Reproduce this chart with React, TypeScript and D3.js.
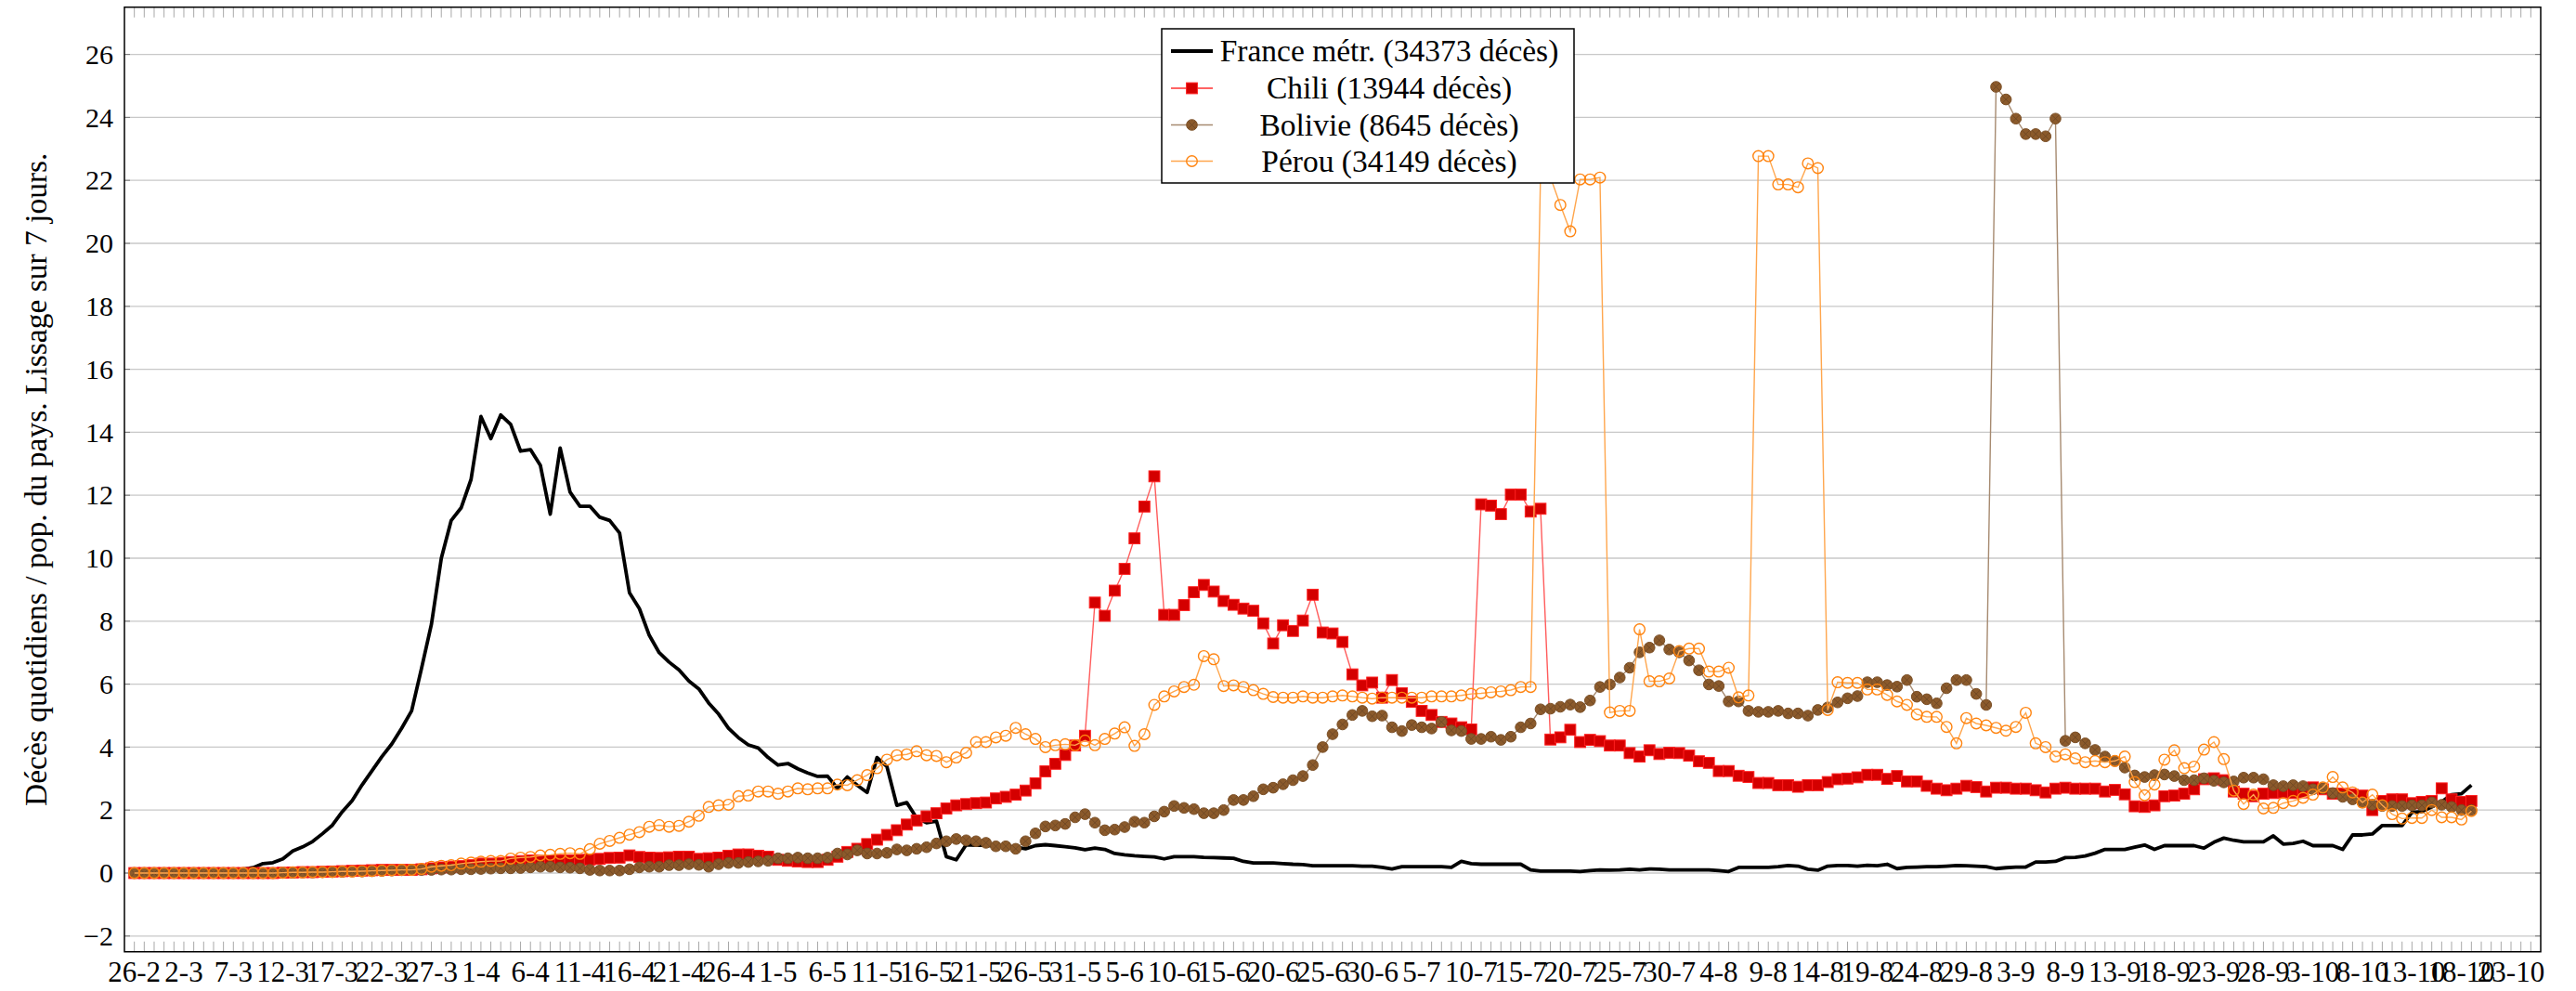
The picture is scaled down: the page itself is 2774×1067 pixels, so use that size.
import React, { useEffect, useRef } from "react";
import * as d3 from "d3";

// x tick labels, one every 5 days starting 26-2 (2020)
const tickLabels = [
  "26-2", "2-3", "7-3", "12-3", "17-3", "22-3", "27-3", "1-4", "6-4", "11-4",
  "16-4", "21-4", "26-4", "1-5", "6-5", "11-5", "16-5", "21-5", "26-5", "31-5",
  "5-6", "10-6", "15-6", "20-6", "25-6", "30-6", "5-7", "10-7", "15-7", "20-7",
  "25-7", "30-7", "4-8", "9-8", "14-8", "19-8", "24-8", "29-8", "3-9", "8-9",
  "13-9", "18-9", "23-9", "28-9", "3-10", "8-10", "13-10", "18-10", "23-10",
];

const yTicks = [-2, 0, 2, 4, 6, 8, 10, 12, 14, 16, 18, 20, 22, 24, 26];

// daily values, day 0 = 26-2
const france = [
  0, 0, 0, 0, 0, 0, 0, 0, 0, 0.05,
  0.1, 0.12, 0.17, 0.3, 0.33, 0.45, 0.7, 0.83, 1.0, 1.25,
  1.52, 1.95, 2.3, 2.8, 3.25, 3.7, 4.1, 4.6, 5.15, 6.5,
  7.9, 10.0, 11.2, 11.6, 12.5, 14.5, 13.8, 14.55, 14.25, 13.4,
  13.45, 12.95, 11.4, 13.5, 12.1, 11.65, 11.65, 11.3, 11.2, 10.8,
  8.9, 8.4, 7.55, 7.0, 6.7, 6.45, 6.1, 5.85, 5.4, 5.05,
  4.6, 4.3, 4.07, 3.97, 3.67, 3.43, 3.48, 3.31, 3.18, 3.07,
  3.08, 2.69, 3.05, 2.79, 2.56, 3.67, 3.38, 2.15, 2.24, 1.75,
  1.6, 1.65, 0.52, 0.42, 0.9, 0.88, 0.88, 0.85, 0.85, 0.82,
  0.77, 0.87, 0.9, 0.87, 0.84, 0.8, 0.74, 0.79, 0.75, 0.62,
  0.58, 0.55, 0.53, 0.51, 0.45, 0.52, 0.52, 0.52, 0.5, 0.49,
  0.48, 0.47, 0.37, 0.32, 0.32, 0.32, 0.3, 0.28, 0.27, 0.23,
  0.23, 0.23, 0.23, 0.23, 0.22, 0.22, 0.18, 0.13, 0.2, 0.2,
  0.2, 0.2, 0.2, 0.18, 0.37, 0.3, 0.28, 0.28, 0.28, 0.28,
  0.28, 0.1, 0.06, 0.06, 0.06, 0.06, 0.05, 0.08, 0.1, 0.09,
  0.1, 0.12, 0.1, 0.13, 0.12, 0.1, 0.1, 0.1, 0.1, 0.1,
  0.08, 0.05, 0.18, 0.18, 0.18, 0.18, 0.2, 0.24, 0.22, 0.12,
  0.09, 0.22, 0.24, 0.24, 0.22, 0.25, 0.23, 0.28, 0.14, 0.18,
  0.19, 0.2, 0.2, 0.22, 0.24, 0.23, 0.22, 0.2, 0.14, 0.17,
  0.19, 0.19, 0.35, 0.35, 0.37, 0.49, 0.5, 0.54, 0.63, 0.75,
  0.75, 0.75, 0.82, 0.89, 0.75, 0.87, 0.87, 0.87, 0.87, 0.79,
  0.98, 1.11, 1.04, 0.99, 0.99, 0.99, 1.18, 0.92, 0.94, 1.01,
  0.87, 0.87, 0.87, 0.75, 1.21, 1.21, 1.24, 1.51, 1.51, 1.51,
  1.93, 1.95, 2.1, 2.26, 2.49, 2.52, 2.79,
];

const chili = [
  0, 0, 0, 0, 0, 0, 0, 0, 0, 0,
  0, 0, 0, 0, 0, 0.01, 0.02, 0.03, 0.03, 0.04,
  0.05, 0.06, 0.07, 0.08, 0.09, 0.1, 0.1, 0.1, 0.1, 0.12,
  0.15, 0.18, 0.2, 0.22, 0.25, 0.3, 0.3, 0.32, 0.35, 0.38,
  0.4, 0.4, 0.4, 0.4, 0.4, 0.42, 0.43, 0.45, 0.48, 0.49,
  0.56, 0.51, 0.49, 0.48, 0.5, 0.52, 0.52, 0.45, 0.47, 0.49,
  0.55, 0.59, 0.59, 0.55, 0.52, 0.42, 0.39, 0.37, 0.35, 0.35,
  0.42, 0.52, 0.67, 0.77, 0.92, 1.06, 1.21, 1.36, 1.54, 1.67,
  1.8, 1.9, 2.05, 2.15, 2.19, 2.22, 2.24, 2.37, 2.42, 2.49,
  2.62, 2.85, 3.23, 3.47, 3.75, 4.05, 4.36, 8.59, 8.17, 8.97,
  9.66, 10.63, 11.64, 12.6, 8.2, 8.2, 8.51, 8.92, 9.15, 8.94,
  8.64, 8.52, 8.4, 8.33, 7.93, 7.29, 7.87, 7.69, 8.02, 8.84,
  7.64, 7.61, 7.34, 6.31, 5.96, 6.05, 5.57, 6.13, 5.71, 5.44,
  5.15, 5.02, 4.8, 4.75, 4.63, 4.56, 11.71, 11.67, 11.4, 12.02,
  12.02, 11.48, 11.57, 4.24, 4.31, 4.55, 4.16, 4.23, 4.19, 4.05,
  4.05, 3.81, 3.7, 3.9, 3.78, 3.82, 3.81, 3.73, 3.55, 3.5,
  3.24, 3.24, 3.09, 3.05, 2.86, 2.86, 2.79, 2.79, 2.74, 2.79,
  2.79, 2.89, 2.98, 3.0, 3.04, 3.12, 3.12, 2.99, 3.08, 2.91,
  2.91, 2.77, 2.68, 2.63, 2.68, 2.77, 2.73, 2.59, 2.71, 2.71,
  2.68, 2.68, 2.63, 2.56, 2.68, 2.71, 2.68, 2.68, 2.68, 2.59,
  2.64, 2.5, 2.12, 2.1, 2.15, 2.44, 2.46, 2.52, 2.66, 2.98,
  3.01, 2.95, 2.59, 2.52, 2.44, 2.52, 2.54, 2.56, 2.54, 2.56,
  2.72, 2.66, 2.52, 2.52, 2.49, 2.46, 2.0, 2.29, 2.34, 2.34,
  2.22, 2.26, 2.29, 2.69, 2.34, 2.26, 2.29,
];

const bolivie = [
  0, 0, 0, 0, 0, 0, 0, 0, 0, 0,
  0, 0, 0, 0, 0, 0.01, 0.01, 0.02, 0.02, 0.03,
  0.03, 0.04, 0.05, 0.05, 0.06, 0.07, 0.08, 0.09, 0.1, 0.1,
  0.1, 0.11, 0.11, 0.12, 0.12, 0.13, 0.14, 0.15, 0.15, 0.16,
  0.18, 0.2, 0.2, 0.18, 0.17, 0.15, 0.1, 0.08, 0.08, 0.08,
  0.12, 0.18, 0.2, 0.2, 0.25, 0.25, 0.28, 0.26, 0.2, 0.28,
  0.32, 0.32, 0.35, 0.37, 0.39, 0.47, 0.47, 0.49, 0.47, 0.47,
  0.49, 0.62, 0.59, 0.72, 0.62, 0.62, 0.64, 0.75, 0.72, 0.77,
  0.82, 0.94, 1.01, 1.08, 1.04, 1.01, 0.96, 0.85, 0.85, 0.77,
  1.01, 1.26, 1.48, 1.51, 1.56, 1.77, 1.87, 1.6, 1.36, 1.38,
  1.46, 1.63, 1.6, 1.8, 1.95, 2.13, 2.07, 2.03, 1.9, 1.9,
  2.0, 2.32, 2.32, 2.44, 2.66, 2.71, 2.82, 2.95, 3.08, 3.43,
  4.0, 4.41, 4.72, 5.02, 5.15, 4.98, 5.0, 4.63, 4.51, 4.7,
  4.63, 4.59, 4.8, 4.53, 4.51, 4.26, 4.26, 4.33, 4.23, 4.33,
  4.63, 4.75, 5.2, 5.22, 5.28, 5.35, 5.27, 5.48, 5.91, 5.99,
  6.21, 6.52, 7.01, 7.16, 7.39, 7.1, 7.01, 6.75, 6.44, 5.99,
  5.94, 5.45, 5.45, 5.15, 5.12, 5.12, 5.15, 5.07, 5.07, 5.0,
  5.18, 5.26, 5.42, 5.55, 5.62, 6.06, 6.06, 5.97, 5.92, 6.13,
  5.6, 5.52, 5.39, 5.87, 6.13, 6.13, 5.69, 5.34, 24.97, 24.57,
  23.96, 23.47, 23.47, 23.4, 23.96, 4.2, 4.31, 4.12, 3.91, 3.7,
  3.56, 3.35, 3.1, 3.05, 3.11, 3.13, 3.08, 2.95, 2.95, 3.01,
  2.93, 2.88, 2.91, 3.03, 3.03, 2.98, 2.79, 2.76, 2.79, 2.76,
  2.66, 2.69, 2.54, 2.42, 2.34, 2.24, 2.17, 2.13, 2.13, 2.13,
  2.15, 2.15, 2.24, 2.17, 2.1, 2.0, 2.0,
];

const perou = [
  0, 0, 0, 0, 0, 0, 0, 0, 0, 0,
  0, 0, 0, 0, 0, 0.01, 0.02, 0.02, 0.03, 0.03,
  0.04, 0.05, 0.05, 0.06, 0.07, 0.08, 0.09, 0.1, 0.1, 0.13,
  0.2, 0.23, 0.25, 0.3, 0.33, 0.36, 0.38, 0.38, 0.46, 0.49,
  0.51, 0.56, 0.58, 0.61, 0.63, 0.61, 0.76, 0.93, 1.02, 1.12,
  1.22, 1.3, 1.47, 1.52, 1.47, 1.5, 1.63, 1.82, 2.1, 2.15,
  2.17, 2.44, 2.46, 2.59, 2.59, 2.52, 2.59, 2.69, 2.66, 2.69,
  2.69, 2.81, 2.79, 2.95, 3.11, 3.33, 3.6, 3.74, 3.77, 3.87,
  3.74, 3.72, 3.52, 3.67, 3.82, 4.16, 4.16, 4.31, 4.36, 4.61,
  4.41, 4.26, 4.0, 4.06, 4.09, 4.06, 4.21, 4.06, 4.26, 4.43,
  4.63, 4.04, 4.41, 5.34, 5.61, 5.77, 5.91, 5.98, 6.89, 6.79,
  5.94, 5.96, 5.91, 5.81, 5.69, 5.59, 5.57, 5.57, 5.61, 5.57,
  5.57, 5.61, 5.64, 5.61, 5.57, 5.54, 5.57, 5.57, 5.57, 5.57,
  5.57, 5.61, 5.61, 5.61, 5.64, 5.69, 5.71, 5.74, 5.77, 5.81,
  5.91, 5.91, 22.2, 22.1, 21.22, 20.38, 22.03, 22.03, 22.09, 5.1,
  5.15, 5.15, 7.74, 6.09, 6.09, 6.18, 7.05, 7.13, 7.13, 6.4,
  6.4, 6.52, 5.58, 5.64, 22.77, 22.77, 21.87, 21.87, 21.78, 22.54,
  22.39, 5.18, 6.06, 6.04, 6.04, 5.83, 5.83, 5.66, 5.45, 5.34,
  5.04, 4.96, 4.96, 4.64, 4.12, 4.92, 4.75, 4.69, 4.61, 4.52,
  4.64, 5.09, 4.12, 4.0, 3.7, 3.77, 3.64, 3.52, 3.56, 3.52,
  3.56, 3.7, 2.89, 2.47, 2.81, 3.6, 3.9, 3.33, 3.38, 3.92,
  4.16, 3.62, 2.62, 2.19, 2.49, 2.05, 2.07, 2.22, 2.29, 2.39,
  2.49, 2.72, 3.05, 2.72, 2.56, 2.24, 2.49, 2.15, 1.87, 1.73,
  1.75, 1.75, 2.0, 1.77, 1.77, 1.7, 1.97,
];

const legendLabels = [
  "France métr. (34373 décès)",
  "Chili (13944 décès)",
  "Bolivie (8645 décès)",
  "Pérou (34149 décès)",
];

const FONT = "'Liberation Serif', 'Times New Roman', serif";

const App = () => {
  const svgRef = useRef<SVGSVGElement>(null);

  useEffect(() => {
    document.body.style.margin = "0";
    const width = 2774;
    const height = 1067;
    const left = 134, right = 2736, top = 7.75, bottom = 1024.75;

    const svg = d3.select(svgRef.current);
    svg.selectAll("*").remove();
    svg.attr("width", width).attr("height", height);

    const x = d3.scaleLinear().domain([-1, 243]).range([left, right]);
    const y = d3.scaleLinear().domain([-2.5, 27.5]).range([bottom, top]);

    // horizontal grid
    svg.append("g")
      .selectAll("line")
      .data(yTicks)
      .enter()
      .append("line")
      .attr("x1", left).attr("x2", right)
      .attr("y1", (d) => y(d)).attr("y2", (d) => y(d))
      .attr("stroke", "#c8c8c8")
      .attr("stroke-width", 1.3);

    // daily ticks, bottom and top
    const days = d3.range(0, 243);
    const ticks = svg.append("g").attr("stroke", "#a8a8a8").attr("stroke-width", 1);
    ticks.selectAll(".tb").data(days).enter().append("line")
      .attr("x1", (d) => x(d)).attr("x2", (d) => x(d))
      .attr("y1", bottom).attr("y2", bottom - 11);
    ticks.selectAll(".tt").data(days).enter().append("line")
      .attr("x1", (d) => x(d)).attr("x2", (d) => x(d))
      .attr("y1", top).attr("y2", top + 11);
    ticks.selectAll(".yl").data(yTicks).enter().append("line")
      .attr("x1", left).attr("x2", left + 6)
      .attr("y1", (d) => y(d)).attr("y2", (d) => y(d))
      .attr("stroke", "#777");
    ticks.selectAll(".yr").data(yTicks).enter().append("line")
      .attr("x1", right).attr("x2", right - 6)
      .attr("y1", (d) => y(d)).attr("y2", (d) => y(d))
      .attr("stroke", "#777");

    // tick labels (they overlap in the original too)
    svg.append("g")
      .selectAll("text")
      .data(tickLabels)
      .enter()
      .append("text")
      .attr("x", (_, i) => x(i * 5))
      .attr("y", 1057)
      .attr("text-anchor", "middle")
      .style("font-family", FONT)
      .style("font-size", "31px")
      .text((d) => d);

    svg.append("g")
      .selectAll("text")
      .data(yTicks)
      .enter()
      .append("text")
      .attr("x", left - 12)
      .attr("y", (d) => y(d))
      .attr("dy", "0.34em")
      .attr("text-anchor", "end")
      .style("font-family", FONT)
      .style("font-size", "30px")
      .text((d) => (d < 0 ? "\u2212" + Math.abs(d) : String(d)));

    svg.append("text")
      .attr("transform", `translate(39,${(top + bottom) / 2}) rotate(-90)`)
      .attr("dy", "0.34em")
      .attr("text-anchor", "middle")
      .style("font-family", FONT)
      .style("font-size", "33.5px")
      .text("Décès quotidiens / pop. du pays. Lissage sur 7 jours.");

    const plot = svg.append("g");
    const line = d3.line<number>().x((_, i) => x(i)).y((d) => y(d));

    // France
    plot.append("path").datum(france).attr("d", line)
      .attr("fill", "none").attr("stroke", "#000")
      .attr("stroke-width", 3.8).attr("stroke-linejoin", "round");

    const drawSquare = (g: any, cx: number, cy: number) => {
      g.append("rect")
        .attr("x", cx - 5.9).attr("y", cy - 5.9)
        .attr("width", 11.8).attr("height", 11.8)
        .attr("fill", "#d40000").attr("stroke", "#ff2020").attr("stroke-width", 1);
    };
    const drawOtimes = (g: any, cx: number, cy: number) => {
      g.append("circle").attr("cx", cx).attr("cy", cy).attr("r", 5.8)
        .attr("fill", "#8b5a2b").attr("stroke", "#7a4e25").attr("stroke-width", 1);
      const k = 5.8 * 0.7071;
      g.append("path")
        .attr("d", `M${cx - k},${cy - k}L${cx + k},${cy + k}M${cx - k},${cy + k}L${cx + k},${cy - k}`)
        .attr("stroke", "#6b4524").attr("stroke-width", 0.8);
    };
    const drawRing = (g: any, cx: number, cy: number) => {
      g.append("circle").attr("cx", cx).attr("cy", cy).attr("r", 5.8)
        .attr("fill", "none").attr("stroke", "#ff8410").attr("stroke-width", 1.4);
    };

    const series = [
      { data: chili, color: "#ff5c5c", mark: drawSquare },
      { data: bolivie, color: "#a68a70", mark: drawOtimes },
      { data: perou, color: "#ffa64d", mark: drawRing },
    ];

    series.forEach((s) => {
      plot.append("path").datum(s.data).attr("d", line)
        .attr("fill", "none").attr("stroke", s.color).attr("stroke-width", 1.4);
      const mg = plot.append("g");
      s.data.forEach((v, i) => s.mark(mg, x(i), y(v)));
    });

    // frame
    svg.append("rect")
      .attr("x", left).attr("y", top)
      .attr("width", right - left).attr("height", bottom - top)
      .attr("fill", "none").attr("stroke", "#000").attr("stroke-width", 1.5);

    // legend
    const lg = svg.append("g");
    lg.append("rect")
      .attr("x", 1251).attr("y", 31).attr("width", 444).attr("height", 166)
      .attr("fill", "#fff").attr("stroke", "#000").attr("stroke-width", 1.5);
    const rows = [55, 95, 134.5, 173.5];
    const legendColors = ["#000", "#ff3030", "#a68a70", "#ffa64d"];
    const legendMarks = [null, drawSquare, drawOtimes, drawRing];
    rows.forEach((ry, i) => {
      lg.append("line")
        .attr("x1", 1261).attr("x2", 1306).attr("y1", ry).attr("y2", ry)
        .attr("stroke", legendColors[i]).attr("stroke-width", i === 0 ? 3.8 : 1.4);
      const m = legendMarks[i];
      if (m) m(lg, 1283.5, ry);
      lg.append("text")
        .attr("x", 1496).attr("y", ry).attr("dy", "0.34em")
        .attr("text-anchor", "middle")
        .style("font-family", FONT)
        .style("font-size", "33.5px")
        .text(legendLabels[i]);
    });
  }, []);

  return <svg ref={svgRef} style={{ display: "block" }}></svg>;
};

export default App;
